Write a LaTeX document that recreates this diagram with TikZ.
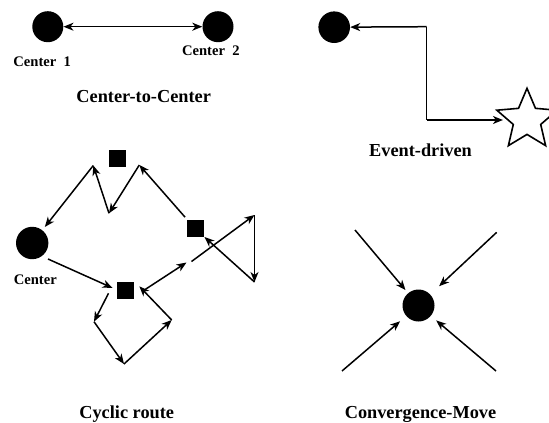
\documentclass[tikz,border=0pt]{standalone}
\usepackage{fontspec}
\setmainfont{Liberation Serif}
\usetikzlibrary{arrows.meta,shapes.geometric}
\tikzset{
  arr/.style={-{Stealth[length=10pt,width=8pt,inset=3pt]}, line width=1.5pt},
  darr/.style={{Stealth[length=10pt,width=8pt,inset=3pt]}-{Stealth[length=10pt,width=8pt,inset=3pt]}, line width=1.5pt},
  bigdot/.style={circle, fill=black, inner sep=0pt, minimum size=#1},
  sqbox/.style={rectangle, fill=black, inner sep=0pt, minimum size=17pt},
  title/.style={font=\fontsize{18.3}{20}\selectfont\bfseries, anchor=base, inner sep=0pt},
  lab/.style={font=\fontsize{14.6}{16}\selectfont\bfseries, anchor=base, inner sep=0pt},
  starnode/.style={star, star points=5, star point ratio=2.2, draw=black, line width=1.6pt, fill=white, minimum size=63.4pt, inner sep=0pt}
}
\begin{document}
\begin{tikzpicture}[x=1pt,y=-1pt]
\useasboundingbox (0,0) rectangle (549,423);

% ---------- Center-to-Center ----------
\node[bigdot=31pt] (c1) at (47.8,26.7) {};
\node[bigdot=31pt] (c2) at (218,26.7) {};
\draw[darr] (c1) -- (c2);
\node[lab] (l1) at (42.2,66.7) {Center\ \ 1};
\node[lab] (l2) at (210.8,55) {Center\ \ 2};
\node[title] (t1) at (143.7,102.7) {Center-to-Center};

% ---------- Event-driven ----------
\node[bigdot=31.6pt] (e1) at (334.2,27.2) {};
\node[starnode] (st) at (527,120) {};
\coordinate (k1) at (426.7,26.7);
\coordinate (k2) at (426.7,120);
\draw[line width=1.5pt] (k1) -- (k2);
\draw[arr] (k1) -- (e1);
\draw[arr, shorten >=4pt] (k2) -- (st);
\node[title] (t2) at (420.5,156) {Event-driven};

% ---------- Cyclic route ----------
\node[bigdot=32.4pt] (cc) at (32.2,243) {};
\node[lab] (l3) at (35.3,284.3) {Center};
\node[sqbox] (sq1) at (117.3,158.3) {};
\node[sqbox] (sq2) at (195,228.5) {};
\node[sqbox] (sq3) at (125.8,290) {};

\coordinate (p1) at (139.3,165);
\coordinate (p2) at (109,213.3);
\coordinate (p3) at (93.3,165.5);
\draw[arr, shorten <=3.5pt] (sq2) -- (p1);
\draw[arr] (p1) -- (p2);
\draw[arr] (p2) -- (p3);
\draw[arr, shorten >=4pt] (p3) -- (cc);

\coordinate (ccout) at (48,259);
\draw[arr, shorten >=5pt] (ccout) -- (sq3.west);

\coordinate (s3o) at (108.5,293.3);
\coordinate (q1) at (94,321.7);
\coordinate (q2) at (124,364);
\coordinate (q3) at (171.7,320);
\draw[arr] (s3o) -- (q1);
\draw[arr] (q1) -- (q2);
\draw[arr] (q2) -- (q3);
\draw[arr, shorten >=7pt] (q3) -- (sq3.north east);

\coordinate (s3e) at (143.3,290.7);
\coordinate (r1) at (186.5,262.5);
\coordinate (r2) at (191.5,261.5);
\coordinate (r3) at (254.5,215);
\coordinate (r4) at (254.5,282);
\draw[arr] (s3e) -- (r1);
\draw[arr] (r2) -- (r3);
\draw[arr] (r3) -- (r4);
\draw[arr, shorten >=1pt] (r4) -- (sq2);
\node[title] (t3) at (126.7,418.3) {Cyclic route};

% ---------- Convergence-Move ----------
\node[bigdot=32pt] (cv) at (418.5,305.5) {};
\coordinate (a1) at (355,230);
\coordinate (a2) at (496.7,232.3);
\coordinate (a3) at (342,371);
\coordinate (a4) at (496,371);
\draw[arr, shorten >=4pt] (a1) -- (cv);
\draw[arr, shorten >=12pt] (a2) -- (cv);
\draw[arr, shorten >=8pt] (a3) -- (cv);
\draw[arr, shorten >=7pt] (a4) -- (cv);
\node[title] (t4) at (420.5,418.3) {Convergence-Move};
\end{tikzpicture}
\end{document}
